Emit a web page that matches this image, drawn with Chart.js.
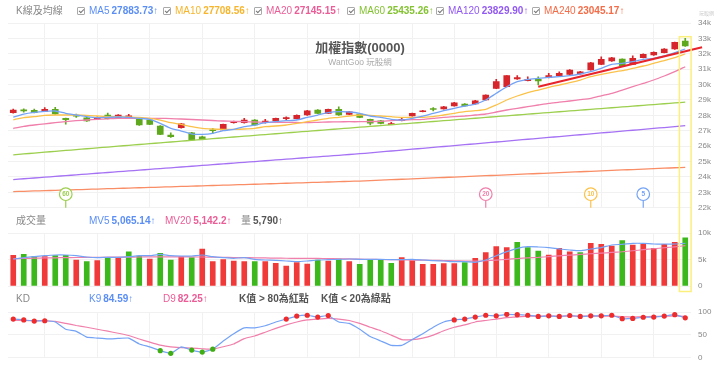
<!DOCTYPE html>
<html lang="zh-Hant">
<head>
<meta charset="utf-8">
<title>加權指數(0000)</title>
<script src="https://cdn.jsdelivr.net/npm/chart.js@4.4.1/dist/chart.umd.min.js"></script>
<style>
  html, body { margin: 0; padding: 0; background: #fff; }
  #wrap { position: relative; width: 720px; height: 370px; overflow: hidden;
          font-family: "Liberation Sans", "Noto Sans CJK TC", sans-serif; }
  #wrap canvas { position: absolute; left: 0; top: 0; }
  .row { position: absolute; left: 0; width: 720px; height: 12px; font-size: 10px; line-height: 12px; white-space: nowrap; }
  .row .it { position: absolute; top: 0; }
  .lbl { color: #888; }
  .b { font-weight: bold; margin-left: 2px; }
  .cb { display: inline-block; position: relative; width: 6px; height: 6px; border: 1px solid #aaa;
        border-radius: 1px; margin-right: 4px; vertical-align: -1px; }
  .cb::after { content: ''; position: absolute; left: 1.5px; top: -0.5px; width: 2px; height: 4px;
               border: solid #777; border-width: 0 1px 1px 0; transform: rotate(45deg); }
  #title { position: absolute; left: 0; top: 37px; width: 720px; text-align: center;
           font-size: 13px; font-weight: bold; color: #555; }
  #sub { position: absolute; left: 0; top: 55px; width: 720px; text-align: center;
         font-size: 8.5px; color: #aaa; }
  #logo { position: absolute; left: 699px; top: 9px; font-size: 5px; color: #ccc; }
</style>
</head>
<body>
<div id="wrap">
  <canvas id="priceChart" width="720" height="370"></canvas>
  <canvas id="volumeChart" width="720" height="370"></canvas>
  <canvas id="kdChart" width="720" height="370"></canvas>

  <div id="title">加權指數(0000)</div>
  <div id="sub">WantGoo 玩股網</div>
  <div id="logo">玩股網</div>

  <div class="row" style="top:5px">
    <span class="it lbl" style="left:16px">K線及均線</span>
    <span class="it" style="left:77px;color:#5b8ef5"><i class="cb"></i>MA5<span class="b">27883.73↑</span></span>
    <span class="it" style="left:163px;color:#f7b52c"><i class="cb"></i>MA10<span class="b">27708.56↑</span></span>
    <span class="it" style="left:254px;color:#ea5d97"><i class="cb"></i>MA20<span class="b">27145.15↑</span></span>
    <span class="it" style="left:347px;color:#84c232"><i class="cb"></i>MA60<span class="b">25435.26↑</span></span>
    <span class="it" style="left:436px;color:#9159f2"><i class="cb"></i>MA120<span class="b">23829.90↑</span></span>
    <span class="it" style="left:532px;color:#f46c47"><i class="cb"></i>MA240<span class="b">23045.17↑</span></span>
  </div>

  <div class="row" style="top:215px">
    <span class="it lbl" style="left:16px">成交量</span>
    <span class="it" style="left:89px;color:#5b8ef5">MV5<span class="b">5,065.14↑</span></span>
    <span class="it" style="left:165px;color:#ea5d97">MV20<span class="b">5,142.2↑</span></span>
    <span class="it" style="left:241px"><span class="lbl">量</span><span class="b" style="color:#555">5,790↑</span></span>
  </div>

  <div class="row" style="top:293px">
    <span class="it lbl" style="left:16px">KD</span>
    <span class="it" style="left:89px;color:#5b8ef5">K9<span class="b">84.59↑</span></span>
    <span class="it" style="left:163px;color:#ea5d97">D9<span class="b">82.25↑</span></span>
    <span class="it" style="left:239px;color:#555;font-weight:bold">K值 &gt; 80為紅點</span>
    <span class="it" style="left:321px;color:#555;font-weight:bold">K值 &lt; 20為綠點</span>
  </div>
</div>

<script>
// Daily candles (index 0 = oldest visible day)
const opens = [28171, 28320, 28330, 28262, 28392, 27800, 27980, 27846, 27762, 28022,
  27846, 27872, 27807, 27697, 27307, 26722, 27197, 26872, 26600, 27050,
  27047, 27521, 27521, 27697, 27521, 27632, 27790, 27781, 28022, 28347,
  28132, 28392, 28067, 28087, 27742, 27651, 27400, 27651, 27957, 28236,
  28410, 28412, 28607, 28737, 28737, 28997, 29757, 29861, 30361, 30251,
  30342, 30446, 30576, 30667, 30686, 30946, 31316, 31531, 31661, 31316,
  31745, 31921, 32070, 32311, 32830];
const highs = [28400, 28430, 28400, 28500, 28520, 27830, 28087, 27870, 27900, 28150,
  28050, 28067, 27830, 27720, 27330, 26870, 27480, 26900, 26650, 27160,
  27440, 27620, 27807, 27720, 27742, 27830, 27911, 28030, 28330, 28370,
  28410, 28561, 28260, 28110, 27760, 27670, 27540, 27872, 28150, 28320,
  28500, 28580, 28840, 28760, 28970, 29340, 30342, 30590, 30576, 30510,
  30510, 30732, 30835, 30970, 30860, 31440, 31810, 31770, 31680, 31870,
  31990, 32120, 32330, 32760, 33006];
const lows = [28140, 28200, 28160, 28240, 28060, 27420, 27870, 27610, 27740, 27760,
  27820, 27850, 27350, 27400, 26750, 26570, 27170, 26380, 26470, 26830,
  27030, 27500, 27500, 27350, 27500, 27610, 27697, 27760, 28000, 28110,
  28110, 28000, 28040, 27850, 27372, 27450, 27390, 27632, 27940, 28220,
  28280, 28400, 28590, 28590, 28720, 28980, 29740, 29840, 30340, 30230,
  29970, 30430, 30560, 30650, 30670, 30930, 31300, 31510, 31200, 31300,
  31730, 31900, 32050, 32290, 32480];
const closes = [28347, 28290, 28180, 28392, 28087, 27720, 27940, 27632, 27872, 27781,
  28022, 27976, 27372, 27417, 26768, 26612, 27456, 26397, 26490, 27000,
  27417, 27586, 27697, 27372, 27632, 27807, 27820, 28002, 28301, 28132,
  28392, 28022, 28236, 27872, 27500, 27470, 27460, 27742, 28132, 28301,
  28380, 28561, 28821, 28607, 28951, 29321, 30186, 30576, 30446, 30342,
  30231, 30576, 30732, 30946, 30835, 31420, 31641, 31745, 31225, 31706,
  31966, 32096, 32311, 32746, 32505];

// Moving averages
const ma5 = [27884, 28087, 28197, 28262, 28282, 28132, 28022, 27911, 27846, 27872,
  27892, 27872, 27807, 27742, 27482, 27158, 26982, 26787, 26768, 26833,
  27002, 27093, 27262, 27372, 27521, 27586, 27651, 27697, 27872, 28022,
  28171, 28236, 28217, 28132, 27957, 27872, 27742, 27697, 27807, 27957,
  28132, 28301, 28457, 28607, 28737, 28997, 29432, 29861, 30186, 30342,
  30407, 30472, 30511, 30576, 30686, 30835, 31056, 31316, 31381, 31485,
  31641, 31706, 31856, 32070, 32311];
const ma10 = [27709, 27859, 27911, 28002, 28022, 28022, 28022, 28002, 27957, 27911,
  27911, 27892, 27872, 27807, 27697, 27521, 27417, 27262, 27158, 27112,
  27093, 27093, 27112, 27158, 27262, 27307, 27372, 27482, 27586, 27697,
  27807, 27872, 27957, 28022, 28002, 27957, 27911, 27872, 27872, 27872,
  27911, 28022, 28132, 28236, 28301, 28392, 28672, 28997, 29257, 29471,
  29646, 29822, 29971, 30121, 30296, 30511, 30667, 30797, 30900, 31056,
  31206, 31381, 31550, 31745, 31986];
const ma20 = [27145, 27288, 27372, 27450, 27521, 27586, 27651, 27697, 27742, 27774,
  27807, 27807, 27807, 27807, 27807, 27788, 27762, 27729, 27697, 27664,
  27632, 27612, 27586, 27567, 27547, 27547, 27547, 27534, 27521, 27547,
  27567, 27580, 27586, 27586, 27599, 27612, 27651, 27697, 27716, 27742,
  27807, 27872, 27911, 27957, 28022, 28087, 28217, 28347, 28457, 28561,
  28672, 28782, 28854, 28932, 29016, 29107, 29270, 29432, 29646, 29861,
  30082, 30296, 30556, 30835, 31160];
const ma60 = [25435, 25492, 25549, 25606, 25662, 25718, 25774, 25830, 25886, 25941,
  25996, 26051, 26106, 26160, 26214, 26268, 26322, 26376, 26430, 26484,
  26538, 26592, 26646, 26699, 26752, 26805, 26858, 26911, 26964, 27017,
  27070, 27123, 27176, 27229, 27282, 27335, 27388, 27441, 27494, 27547,
  27600, 27653, 27706, 27759, 27812, 27865, 27918, 27971, 28024, 28077,
  28129, 28181, 28233, 28285, 28337, 28389, 28441, 28493, 28545, 28597,
  28649, 28701, 28753, 28805, 28857];
const ma120 = [23830, 23880, 23931, 23982, 24033, 24084, 24135, 24186, 24237, 24287,
  24338, 24389, 24440, 24491, 24542, 24593, 24643, 24694, 24745, 24796,
  24847, 24898, 24949, 25000, 25050, 25101, 25152, 25203, 25254, 25305,
  25356, 25406, 25457, 25507, 25565, 25624, 25683, 25742, 25800, 25859,
  25918, 25976, 26035, 26094, 26153, 26211, 26270, 26329, 26387, 26446,
  26505, 26564, 26622, 26681, 26740, 26798, 26857, 26916, 26975, 27033,
  27092, 27151, 27209, 27268, 27327];
const ma240 = [23045, 23066, 23087, 23108, 23129, 23150, 23170, 23191, 23212, 23233,
  23254, 23275, 23295, 23316, 23337, 23358, 23379, 23400, 23420, 23441,
  23462, 23483, 23504, 23525, 23545, 23566, 23587, 23608, 23629, 23650,
  23670, 23691, 23712, 23733, 23762, 23790, 23819, 23848, 23877, 23905,
  23934, 23963, 23992, 24020, 24049, 24078, 24106, 24135, 24164, 24193,
  24221, 24250, 24279, 24308, 24336, 24365, 24394, 24422, 24451, 24480,
  24509, 24537, 24566, 24595, 24623];

// Trend line drawn by the user (bar index, price)
const trendX = [50, 65.6];
const trendY = [29861, 32421];

// Volume (lots) and its averages
const volumes = [5790, 5980, 5530, 5530, 5720, 5790, 4910, 4590, 4780, 5410,
  5410, 6470, 5660, 5090, 6160, 4910, 5530, 5350, 6980, 4590,
  4970, 4720, 4590, 4590, 4590, 4280, 3770, 4400, 4150, 4910,
  4720, 5090, 4590, 4090, 5030, 4910, 4280, 5350, 4780, 4090,
  4090, 4210, 4210, 4400, 5220, 6290, 7420, 7230, 8240, 7230,
  6600, 5850, 7110, 6470, 6290, 8050, 7860, 7550, 8550, 7740,
  7860, 7110, 7860, 8240, 9110];
const mv5 = [5065, 5350, 5530, 5720, 5850, 5850, 5720, 5470, 5350, 5410,
  5410, 5530, 5720, 5720, 5970, 5720, 5660, 5660, 5850, 5530,
  5350, 5220, 5350, 5030, 4910, 4840, 4720, 4590, 4720, 4910,
  4970, 5030, 5090, 5030, 5030, 5030, 4970, 4970, 5030, 4910,
  4780, 4720, 4590, 4590, 4470, 4910, 5720, 6480, 7110, 7420,
  7360, 7230, 6980, 6790, 6670, 6980, 7230, 7740, 7860, 8050,
  8050, 7920, 7920, 7920, 8050];
const mv20 = [5142, 5200, 5250, 5290, 5320, 5350, 5380, 5400, 5420, 5430,
  5440, 5450, 5470, 5490, 5510, 5500, 5490, 5480, 5470, 5440,
  5410, 5380, 5350, 5320, 5290, 5260, 5240, 5220, 5210, 5200,
  5180, 5140, 5100, 5060, 5030, 5000, 4970, 4940, 4900, 4870,
  4840, 4800, 4760, 4720, 4680, 4760, 4880, 5020, 5180, 5300,
  5400, 5550, 5700, 5830, 5950, 6080, 6200, 6330, 6460, 6650,
  6850, 7030, 7220, 7400, 7600];

// KD(9)
const kValues = [84.59, 82.7, 80.1, 80.8, 78.2, 62.2, 57.7, 44.9, 42.9, 41.0,
  42.3, 42.9, 30.1, 23.7, 15.4, 9.6, 23.7, 16.7, 12.2, 18.6,
  36.5, 52.6, 65.4, 65.4, 69.9, 78.2, 84.6, 91.0, 92.9, 89.0,
  92.3, 78.2, 75.0, 62.2, 46.2, 36.5, 26.9, 26.9, 39.7, 52.6,
  66.7, 78.2, 82.7, 84.6, 89.0, 92.9, 91.6, 94.9, 94.2, 92.9,
  90.4, 91.6, 90.4, 92.3, 90.4, 91.6, 91.6, 92.9, 85.3, 85.9,
  88.5, 89.0, 91.0, 94.2, 87.2];
const dValues = [82.25, 81.4, 81.0, 80.8, 79.5, 75.0, 70.5, 66.7, 62.2, 58.0,
  53.5, 48.5, 41.0, 34.0, 27.5, 23.5, 22.0, 20.8, 19.6, 18.6,
  24.0, 30.1, 41.7, 47.4, 55.8, 64.1, 71.8, 78.2, 82.7, 84.6,
  85.9, 84.6, 81.4, 75.0, 66.7, 59.0, 49.4, 39.7, 39.7, 42.9,
  49.4, 59.0, 66.7, 71.8, 78.2, 81.4, 84.6, 87.8, 89.0, 91.0,
  91.0, 91.0, 91.0, 91.0, 91.0, 91.0, 91.0, 91.0, 89.7, 89.0,
  89.7, 90.4, 91.0, 91.6, 90.4];

// Vertical grid lines (first trading day of each week)
const weekStarts = [3, 8, 13, 18, 23, 28, 33, 38, 42, 46, 51, 56, 61];
// Periods flagged at the bottom of the price panel
const badgePeriods = [60, 20, 10, 5];

const N = closes.length;
const COLORS = {
  ma5: '#74a3f6', ma10: '#fbc24a', ma20: '#f07fab', ma60: '#9ccf4e', ma120: '#a572f4', ma240: '#f98d66',
  up: '#d7262b', down: '#5fa81e', volUp: '#f03a3a', volDown: '#3db81c',
  grid: '#f1f1f1', tick: '#888'
};
const badgeColors = { 60: COLORS.ma60, 20: COLORS.ma20, 10: COLORS.ma10, 5: COLORS.ma5 };

Chart.defaults.font.family = '"Liberation Sans", "Noto Sans CJK TC", sans-serif';
Chart.defaults.animation = false;
Chart.defaults.events = [];
Chart.defaults.plugins.legend.display = false;
Chart.defaults.plugins.tooltip.enabled = false;

const pts = arr => arr.map((v, i) => ({ x: i, y: v }));

// Shared x axis: bar index, grid line at every week start
function xAxis() {
  return {
    type: 'linear',
    min: -0.5,
    max: N - 0.5,
    offset: false,
    afterBuildTicks: s => { s.ticks = weekStarts.map(v => ({ value: v })); },
    ticks: { display: false },
    grid: { color: COLORS.grid, drawTicks: false, offset: false },
    border: { display: false }
  };
}

function yAxis(min, max, step, fmt) {
  return {
    position: 'right',
    min: min,
    max: max,
    afterFit: s => { s.width = 29.5; },
    ticks: { stepSize: step, padding: 7.5, color: COLORS.tick, font: { size: 8 }, callback: fmt },
    grid: { color: COLORS.grid, drawTicks: false },
    border: { display: false }
  };
}

function line(data, color, width) {
  return {
    type: 'line',
    data: pts(data),
    borderColor: color,
    borderWidth: width || 1.3,
    pointRadius: 0,
    tension: 0.2,
    order: 1
  };
}

// Little numbered pins marking where each MA window starts
const maBadges = {
  id: 'maBadges',
  afterDatasetsDraw(chart) {
    const { ctx, chartArea, scales } = chart;
    ctx.save();
    badgePeriods.forEach(n => {
      const color = badgeColors[n];
      const x = scales.x.getPixelForValue(N - n);
      const cy = chartArea.bottom - 13.5;
      ctx.strokeStyle = color;
      ctx.lineWidth = 1.2;
      ctx.beginPath();
      ctx.moveTo(x, cy + 6.5);
      ctx.lineTo(x, chartArea.bottom);
      ctx.stroke();
      ctx.beginPath();
      ctx.arc(x, cy, 6.3, 0, Math.PI * 2);
      ctx.fillStyle = '#fff';
      ctx.fill();
      ctx.stroke();
      ctx.fillStyle = color;
      ctx.font = 'bold 6.5px "Liberation Sans", sans-serif';
      ctx.textAlign = 'center';
      ctx.textBaseline = 'middle';
      ctx.fillText(String(n), x, cy + 0.5);
    });
    ctx.restore();
  }
};

const candleColors = closes.map((c, i) => (c >= opens[i] ? COLORS.up : COLORS.down));

const priceChart = new Chart(document.getElementById('priceChart'), {
  type: 'bar',
  data: {
    datasets: [
      {
        type: 'line',
        data: [{ x: trendX[0], y: trendY[0] }, { x: trendX[1], y: trendY[1] }],
        borderColor: '#e8232a',
        borderWidth: 2.2,
        pointRadius: 0,
        clip: false,
        order: 0
      },
      line(ma5, COLORS.ma5),
      line(ma10, COLORS.ma10),
      line(ma20, COLORS.ma20),
      line(ma60, COLORS.ma60),
      line(ma120, COLORS.ma120),
      line(ma240, COLORS.ma240),
      {
        data: closes.map((c, i) => ({ x: i, y: [lows[i], highs[i]] })),
        backgroundColor: candleColors,
        barThickness: 1,
        grouped: false,
        order: 3
      },
      {
        data: closes.map((c, i) => ({ x: i, y: [opens[i], c] })),
        backgroundColor: candleColors,
        barThickness: 6,
        minBarLength: 1,
        grouped: false,
        order: 2
      }
    ]
  },
  options: {
    responsive: false,
    layout: { padding: { left: 8, right: 0, top: 23, bottom: 162.3 } },
    scales: {
      x: xAxis(),
      y: yAxis(22000, 34000, 1000, v => v / 1000 + 'k')
    }
  },
  plugins: [maBadges]
});

// Yellow frame around the highlighted (latest) day, spanning price and volume
const hoverBox = {
  id: 'hoverBox',
  afterDraw(chart) {
    const { ctx, chartArea, scales } = chart;
    const last = N - 1;
    const x = scales.x.getPixelForValue(last);
    const half = (scales.x.getPixelForValue(1) - scales.x.getPixelForValue(0)) / 2 + 0.6;
    const top = priceChart.scales.y.getPixelForValue(highs[last]) - 1.6;
    const bottom = chartArea.bottom + 5.5;
    ctx.save();
    ctx.strokeStyle = '#fbef7e';
    ctx.lineWidth = 1.5;
    ctx.strokeRect(x - half, top, half * 2, bottom - top);
    ctx.restore();
  }
};

const volColors = closes.map((c, i) => (i === 0 || c >= closes[i - 1] ? COLORS.volUp : COLORS.volDown));

new Chart(document.getElementById('volumeChart'), {
  type: 'bar',
  data: {
    datasets: [
      line(mv5, COLORS.ma5, 1.2),
      line(mv20, COLORS.ma20, 1.2),
      {
        data: pts(volumes),
        backgroundColor: volColors,
        barThickness: 5,
        grouped: false,
        order: 2
      }
    ]
  },
  options: {
    responsive: false,
    layout: { padding: { left: 8, right: 0, top: 233, bottom: 84 } },
    scales: {
      x: xAxis(),
      y: yAxis(0, 10000, 5000, v => (v === 0 ? '0' : v / 1000 + 'k'))
    }
  },
  plugins: [hoverBox]
});

new Chart(document.getElementById('kdChart'), {
  type: 'line',
  data: {
    datasets: [
      {
        data: pts(kValues),
        borderColor: '#74a3f6',
        borderWidth: 1.2,
        tension: 0.1,
        pointRadius: ctx => (kValues[ctx.dataIndex] > 80 || kValues[ctx.dataIndex] < 20 ? 2.6 : 0),
        pointBorderWidth: 0,
        pointBackgroundColor: ctx => (kValues[ctx.dataIndex] > 80 ? '#f02b2b' : '#3fae12'),
        order: 0
      },
      {
        data: pts(dValues),
        borderColor: '#f07fab',
        borderWidth: 1.2,
        tension: 0.1,
        pointRadius: 0,
        order: 1
      }
    ]
  },
  options: {
    responsive: false,
    layout: { padding: { left: 8, right: 0, top: 312, bottom: 6 } },
    scales: {
      x: xAxis(),
      y: yAxis(0, 100, 50)
    }
  }
});
</script>
</body>
</html>
